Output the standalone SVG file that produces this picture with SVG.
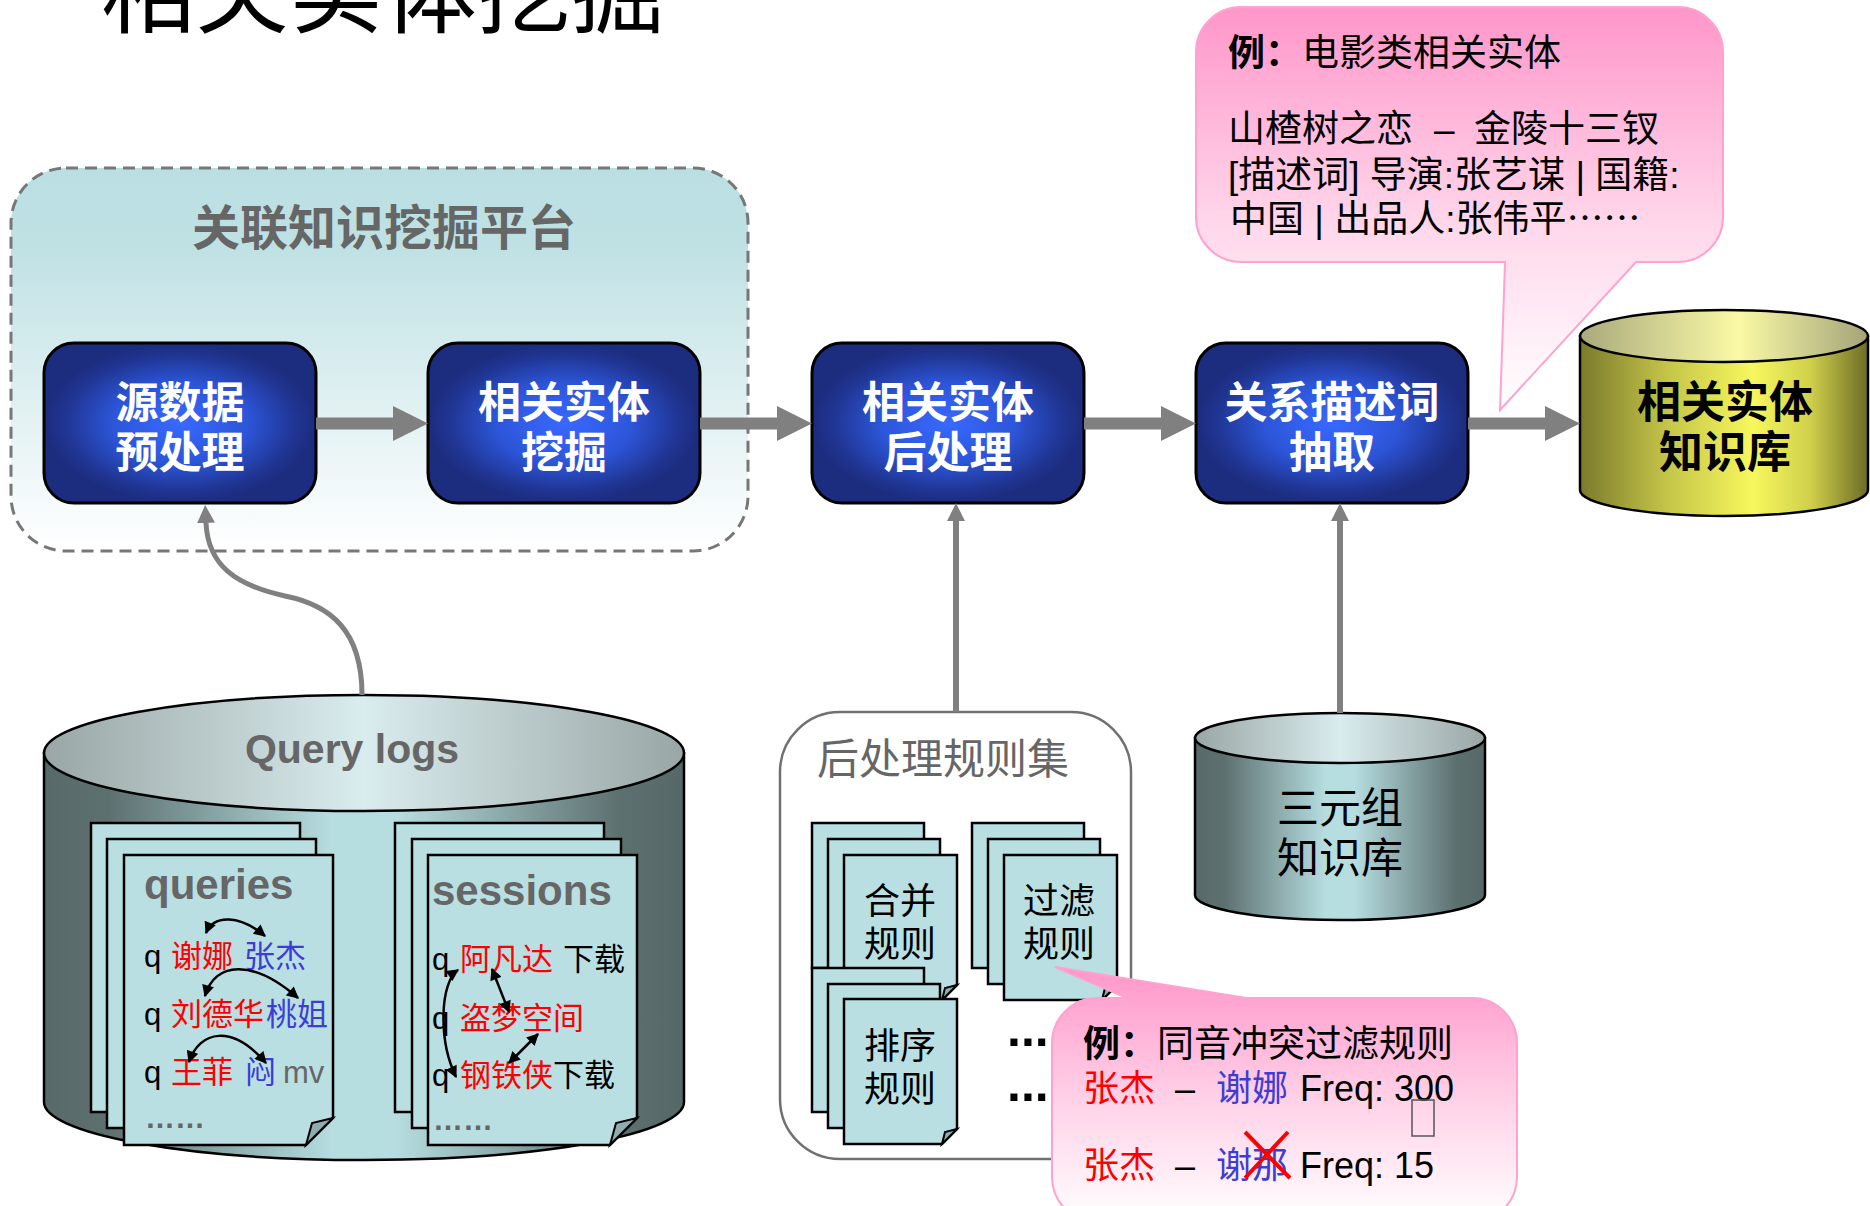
<svg xmlns="http://www.w3.org/2000/svg" width="1870" height="1206" viewBox="0 0 1870 1206">
  <defs>
    <style>
      text { font-family: "Liberation Sans", "Noto Sans CJK SC", sans-serif; }
      .cjk { font-family: "Noto Sans CJK SC", sans-serif; }
      .step { fill: url(#gBlue); stroke: #000; stroke-width: 3; }
      .steptxt { fill: #fff; font-size: 43px; font-weight: bold; text-anchor: middle; }
      .page { fill: #b9dfe2; stroke: #000; stroke-width: 2.5; stroke-linejoin: miter; }
      .fold { fill: #8eacae; stroke: #000; stroke-width: 2; stroke-linejoin: miter; }
      .gray { fill: #666; }
      .red { fill: #ff0000; }
      .blue { fill: #3d3dd6; }
      .blk { fill: #000; }
      .conn { fill: #808080; }
      .dbl { fill: none; stroke: #000; stroke-width: 2.5; marker-start: url(#ah); marker-end: url(#ah); }
      .cyl { stroke: #000; stroke-width: 2.5; }
      .callout { stroke: #ffa2d0; stroke-width: 2; }
      .rule { font-size: 36px; text-anchor: middle; fill: #000; }
    </style>
    <radialGradient id="gBlue" cx="0.5" cy="0.5" r="0.5">
      <stop offset="0" stop-color="#3869ff"/>
      <stop offset="0.5" stop-color="#2c55d8"/>
      <stop offset="0.85" stop-color="#203592"/>
      <stop offset="1" stop-color="#1c2c7e"/>
    </radialGradient>
    <linearGradient id="gPlatform" x1="0" y1="0" x2="0" y2="1">
      <stop offset="0" stop-color="#badfe2"/>
      <stop offset="0.2" stop-color="#bfe1e4"/>
      <stop offset="1" stop-color="#ffffff"/>
    </linearGradient>
    <linearGradient id="gTealBody" x1="0" y1="0" x2="1" y2="0">
      <stop offset="0" stop-color="#586969"/>
      <stop offset="0.1" stop-color="#5d7070"/>
      <stop offset="0.45" stop-color="#b6dde0"/>
      <stop offset="0.55" stop-color="#b6dde0"/>
      <stop offset="0.9" stop-color="#5d7070"/>
      <stop offset="1" stop-color="#566767"/>
    </linearGradient>
    <linearGradient id="gTealTop" x1="0" y1="0" x2="1" y2="0">
      <stop offset="0" stop-color="#9aa6a6"/>
      <stop offset="0.5" stop-color="#d9ecee"/>
      <stop offset="1" stop-color="#9aa6a6"/>
    </linearGradient>
    <linearGradient id="gGoldBody" x1="0" y1="0" x2="1" y2="0">
      <stop offset="0" stop-color="#7a7a2c"/>
      <stop offset="0.3" stop-color="#c4c448"/>
      <stop offset="0.6" stop-color="#f7f75e"/>
      <stop offset="0.8" stop-color="#d0d04c"/>
      <stop offset="1" stop-color="#6c6c26"/>
    </linearGradient>
    <linearGradient id="gGoldTop" x1="0" y1="0" x2="1" y2="0">
      <stop offset="0" stop-color="#a9a97c"/>
      <stop offset="0.55" stop-color="#fafaa6"/>
      <stop offset="1" stop-color="#a4a47a"/>
    </linearGradient>
    <linearGradient id="gPink1" x1="0" y1="0" x2="0" y2="1">
      <stop offset="0" stop-color="#ff96ca"/>
      <stop offset="0.55" stop-color="#ffd8eb"/>
      <stop offset="1" stop-color="#ffffff"/>
    </linearGradient>
    <linearGradient id="gPink2" x1="0" y1="0" x2="0" y2="1">
      <stop offset="0" stop-color="#ff96ca"/>
      <stop offset="0.5" stop-color="#ffcfe6"/>
      <stop offset="1" stop-color="#ffffff"/>
    </linearGradient>
    <marker id="ah" viewBox="0 0 10 10" refX="9" refY="5" markerWidth="13" markerHeight="12" markerUnits="userSpaceOnUse" orient="auto-start-reverse">
      <path d="M0,0 L10,5 L0,10 z" fill="#000"/>
    </marker>
    <marker id="ahG" viewBox="0 0 10 10" refX="0" refY="5" markerWidth="18" markerHeight="18" markerUnits="userSpaceOnUse" orient="auto">
      <path d="M0,0 L10,5 L0,10 z" fill="#808080"/>
    </marker>
  </defs>

  <rect x="0" y="0" width="1870" height="1206" fill="#ffffff"/>

  <!-- page title, partly above the top edge -->
  <text id="title" x="101" y="26" font-size="94" fill="#000">相关实体挖掘</text>

  <!-- platform container -->
  <g id="platform">
    <rect x="11" y="168" width="737" height="383" rx="55" ry="55" fill="url(#gPlatform)" stroke="#777" stroke-width="3" stroke-dasharray="12 7"/>
    <text x="384" y="245" font-size="48" font-weight="bold" class="gray" text-anchor="middle">关联知识挖掘平台</text>
  </g>

  <!-- processing steps -->
  <g id="n-preprocess">
    <rect class="step" x="44" y="343" width="272" height="160" rx="30" ry="30"/>
    <text class="steptxt" x="180" y="418">源数据</text>
    <text class="steptxt" x="180" y="468">预处理</text>
  </g>
  <g id="n-mining">
    <rect class="step" x="428" y="343" width="272" height="160" rx="30" ry="30"/>
    <text class="steptxt" x="564" y="418">相关实体</text>
    <text class="steptxt" x="564" y="468">挖掘</text>
  </g>
  <g id="n-postproc">
    <rect class="step" x="812" y="343" width="272" height="160" rx="30" ry="30"/>
    <text class="steptxt" x="948" y="418">相关实体</text>
    <text class="steptxt" x="948" y="468">后处理</text>
  </g>
  <g id="n-relextract">
    <rect class="step" x="1196" y="343" width="272" height="160" rx="30" ry="30"/>
    <text class="steptxt" x="1332" y="418">关系描述词</text>
    <text class="steptxt" x="1332" y="468">抽取</text>
  </g>

  <!-- resulting knowledge base -->
  <g id="n-entitykb">
    <path class="cyl" fill="url(#gGoldBody)" d="M1580 336 V490 A144 26 0 0 0 1868 490 V336 Z"/>
    <ellipse class="cyl" fill="url(#gGoldTop)" cx="1724" cy="336" rx="144" ry="26"/>
    <text x="1725" y="418" font-size="44" font-weight="bold" fill="#000" text-anchor="middle">相关实体</text>
    <text x="1725" y="468" font-size="44" font-weight="bold" fill="#000" text-anchor="middle">知识库</text>
  </g>

  <!-- example: movie entities -->
  <g id="callout-movie">
    <path class="callout" fill="url(#gPink1)" d="M1241 7 H1678 A45 45 0 0 1 1723 52 V217 A45 45 0 0 1 1678 262 H1636 L1500 410 L1505 262 H1241 A45 45 0 0 1 1196 217 V52 A45 45 0 0 1 1241 7 Z"/>
    <text x="1228" y="66" font-size="37" fill="#000"><tspan font-weight="bold">例：</tspan>电影类相关实体</text>
    <text y="142" font-size="37" fill="#000"><tspan x="1228">山楂树之恋</tspan><tspan x="1434">–</tspan><tspan x="1474">金陵十三钗</tspan></text>
    <text x="1228" y="188" font-size="37" fill="#000">[描述词] 导演:张艺谋 | 国籍:</text>
    <text x="1230" y="232" font-size="37" fill="#000">中国 | 出品人:张伟平<tspan class="cjk">……</tspan></text>
  </g>

  <!-- query log source -->
  <g id="querylogs">
    <path class="cyl" fill="url(#gTealBody)" d="M44 753 V1102 A320 58 0 0 0 684 1102 V753 Z"/>
    <ellipse class="cyl" fill="url(#gTealTop)" cx="364" cy="753" rx="320" ry="58"/>
    <text x="352" y="763" font-size="41" font-weight="bold" class="gray" text-anchor="middle">Query logs</text>

    <!-- queries pages -->
    <rect class="page" x="91" y="823" width="209" height="289"/>
    <rect class="page" x="107" y="839" width="209" height="289"/>
    <path class="page" d="M124 855 H333 V1118 L306 1145 H124 Z"/>
    <path class="fold" d="M333 1118 L312 1123 L306 1145 Z"/>
    <text x="144" y="899" font-size="42" font-weight="bold" class="gray">queries</text>
    <text y="967" font-size="31"><tspan x="144" class="blk">q</tspan><tspan x="171" class="red">谢娜</tspan><tspan x="244" class="blue">张杰</tspan></text>
    <text y="1025" font-size="31"><tspan x="144" class="blk">q</tspan><tspan x="171" class="red">刘德华</tspan><tspan x="266" class="blue">桃姐</tspan></text>
    <text y="1083" font-size="31"><tspan x="144" class="blk">q</tspan><tspan x="171" class="red">王菲</tspan><tspan x="245" class="blue">闷</tspan><tspan x="283" class="gray">mv</tspan></text>
    <text x="145" y="1128" font-size="30" font-weight="bold" class="gray">……</text>
    <path class="dbl" d="M206 933 C214 914 240 915 265 936"/>
    <path class="dbl" d="M205 996 C215 962 252 958 298 998"/>
    <path class="dbl" d="M189 1062 C200 1030 232 1024 266 1063"/>

    <!-- sessions pages -->
    <rect class="page" x="395" y="823" width="209" height="289"/>
    <rect class="page" x="412" y="839" width="209" height="289"/>
    <path class="page" d="M428 855 H637 V1118 L610 1145 H428 Z"/>
    <path class="fold" d="M637 1118 L616 1123 L610 1145 Z"/>
    <text x="432" y="905" font-size="42" font-weight="bold" class="gray">sessions</text>
    <text y="970" font-size="31"><tspan x="432" class="blk">q</tspan><tspan x="460" class="red">阿凡达</tspan><tspan x="563" class="blk">下载</tspan></text>
    <text y="1029" font-size="31"><tspan x="432" class="blk">q</tspan><tspan x="460" class="red">盗梦空间</tspan></text>
    <text y="1086" font-size="31"><tspan x="432" class="blk">q</tspan><tspan x="460" class="red">钢铁侠</tspan><tspan x="553" class="blk">下载</tspan></text>
    <text x="433" y="1130" font-size="30" font-weight="bold" class="gray">……</text>
    <path class="dbl" d="M458 970 C440 982 438 1040 456 1077"/>
    <path class="dbl" d="M492 969 L509 1012"/>
    <path class="dbl" d="M538 1034 L509 1063"/>
  </g>

  <!-- post-processing rule set -->
  <g id="rules">
    <rect x="780" y="712" width="351" height="447" rx="60" ry="60" fill="#fff" stroke="#707070" stroke-width="2.5"/>
    <text x="817" y="774" font-size="42" class="gray">后处理规则集</text>

    <rect class="page" x="812" y="823" width="112" height="145"/>
    <rect class="page" x="828" y="839" width="112" height="145"/>
    <path class="page" d="M844 855 H957 V985 L942 1000 H844 Z"/>
    <path class="fold" d="M957 985 L945 988 L942 1000 Z"/>
    <text class="rule" x="900" y="914">合并</text>
    <text class="rule" x="900" y="957">规则</text>

    <rect class="page" x="972" y="823" width="112" height="145"/>
    <rect class="page" x="988" y="839" width="112" height="145"/>
    <path class="page" d="M1004 855 H1117 V985 L1102 1000 H1004 Z"/>
    <path class="fold" d="M1117 985 L1105 988 L1102 1000 Z"/>
    <text class="rule" x="1059" y="914">过滤</text>
    <text class="rule" x="1059" y="957">规则</text>

    <rect class="page" x="812" y="968" width="112" height="144"/>
    <rect class="page" x="828" y="984" width="112" height="144"/>
    <path class="page" d="M844 999 H957 V1129 L942 1144 H844 Z"/>
    <path class="fold" d="M957 1129 L945 1132 L942 1144 Z"/>
    <text class="rule" x="900" y="1059">排序</text>
    <text class="rule" x="900" y="1102">规则</text>

    <text x="1007" y="1046" font-size="50" font-weight="bold" fill="#000">...</text>
    <text x="1007" y="1101" font-size="50" font-weight="bold" fill="#000">...</text>
  </g>

  <!-- triple store -->
  <g id="triplekb">
    <path class="cyl" fill="url(#gTealBody)" d="M1195 738 V895 A145 25 0 0 0 1485 895 V738 Z"/>
    <ellipse class="cyl" fill="url(#gTealTop)" cx="1340" cy="738" rx="145" ry="25"/>
    <text x="1340" y="823" font-size="42" fill="#000" text-anchor="middle">三元组</text>
    <text x="1340" y="873" font-size="42" fill="#000" text-anchor="middle">知识库</text>
  </g>

  <!-- connectors -->
  <g id="connectors">
    <polygon class="conn" points="316,417.5 393,417.5 393,406 428,423.5 393,441 393,429.5 316,429.5"/>
    <polygon class="conn" points="700,417.5 777,417.5 777,406 812,423.5 777,441 777,429.5 700,429.5"/>
    <polygon class="conn" points="1084,417.5 1161,417.5 1161,406 1196,423.5 1161,441 1161,429.5 1084,429.5"/>
    <polygon class="conn" points="1468,417.5 1545,417.5 1545,406 1580,423.5 1545,441 1545,429.5 1468,429.5"/>
    <polygon class="conn" points="953,712 953,521 947,521 956,503 965,521 959,521 959,712"/>
    <polygon class="conn" points="1337,713 1337,521 1331,521 1340,503 1349,521 1343,521 1343,713"/>
    <path d="M362 695 C362 630 330 605 285 596 C235 585 208 565 206 523" fill="none" stroke="#808080" stroke-width="5" marker-end="url(#ahG)"/>
  </g>

  <!-- example: homophone conflict filtering -->
  <g id="callout-filter">
    <path class="callout" fill="url(#gPink2)" d="M1097 998 H1127 L1055 967 L1246 998 H1472 A45 45 0 0 1 1517 1043 V1177 A45 45 0 0 1 1472 1222 H1097 A45 45 0 0 1 1052 1177 V1043 A45 45 0 0 1 1097 998 Z"/>
    <text x="1083" y="1057" font-size="37" fill="#000"><tspan font-weight="bold">例：</tspan>同音冲突过滤规则</text>
    <text y="1101" font-size="36"><tspan x="1083" class="red">张杰</tspan><tspan x="1175" class="blk">–</tspan><tspan x="1216" class="blue">谢娜</tspan><tspan x="1300" class="blk">Freq: 300</tspan></text>
    <text y="1178" font-size="36"><tspan x="1083" class="red">张杰</tspan><tspan x="1175" class="blk">–</tspan><tspan x="1216" class="blue">谢那</tspan><tspan x="1300" class="blk">Freq: 15</tspan></text>
    <path d="M1245 1132 L1290 1178 M1288 1132 L1245 1178" stroke="#ff0000" stroke-width="4" fill="none"/>
    <rect x="1412" y="1100" width="22" height="36" fill="none" stroke="#555" stroke-width="1.5"/>
  </g>
</svg>
